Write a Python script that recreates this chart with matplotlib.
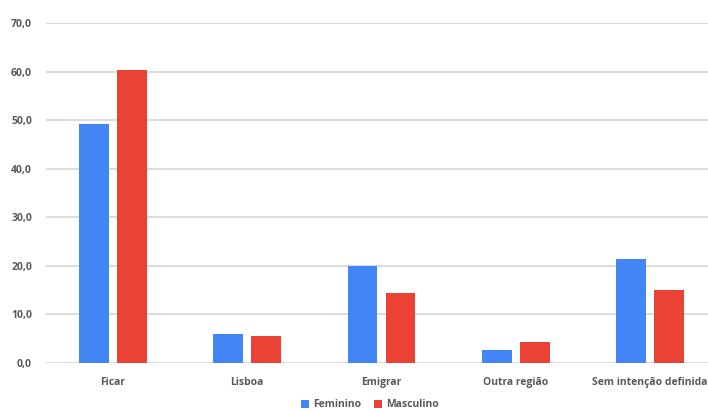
import numpy as np
import matplotlib.pyplot as plt

# Intenção após os estudos, por sexo (%)
categorias = ['Ficar', 'Lisboa', 'Emigrar', 'Outra região', 'Sem intenção definida']
feminino = [49.2, 5.9, 20.0, 2.7, 21.5]
masculino = [60.3, 5.6, 14.4, 4.3, 15.0]

plt.rcParams['font.family'] = ['Open Sans', 'DejaVu Sans']

fig = plt.figure(figsize=(7.08, 4.12), dpi=100)
# the original chart is cropped on the right, so the axes run past the figure edge
ax = fig.add_axes([46/708, 1 - 363/412, 671/708, 340/412])

x = np.arange(len(categorias))
w = 0.223
gap = 0.03
ax.bar(x - w/2 - gap, feminino, w, color='#4285F4', label='Feminino', zorder=3)
ax.bar(x + w/2 + gap, masculino, w, color='#EA4335', label='Masculino', zorder=3)

ax.set_xlim(-0.5, len(categorias) - 0.5)
ax.set_ylim(0, 70)
ax.set_yticks(np.arange(0, 71, 10))
ax.set_yticklabels([f'{v:.1f}'.replace('.', ',') for v in range(0, 71, 10)])
ax.set_xticks(x)
ax.set_xticklabels(categorias)

ax.grid(axis='y', color='#d9d9d9', lw=1.3, zorder=0)
ax.set_axisbelow(True)
for s in ax.spines.values():
    s.set_visible(False)
ax.tick_params(length=0, labelsize=7.5, labelcolor='#595959')
ax.tick_params(axis='y', pad=10)
ax.tick_params(axis='x', pad=10)
for t in ax.get_xticklabels() + ax.get_yticklabels():
    t.set_fontweight('bold')

leg = ax.legend(loc='upper center', bbox_to_anchor=(0.483, -0.095), ncol=2, frameon=False,
                fontsize=7.5, handlelength=0.8, handleheight=0.8, handletextpad=0.4,
                columnspacing=1.2, borderaxespad=0)
for t in leg.get_texts():
    t.set_color('#595959')
    t.set_fontweight('bold')

fig.savefig('out.png', dpi=100)
